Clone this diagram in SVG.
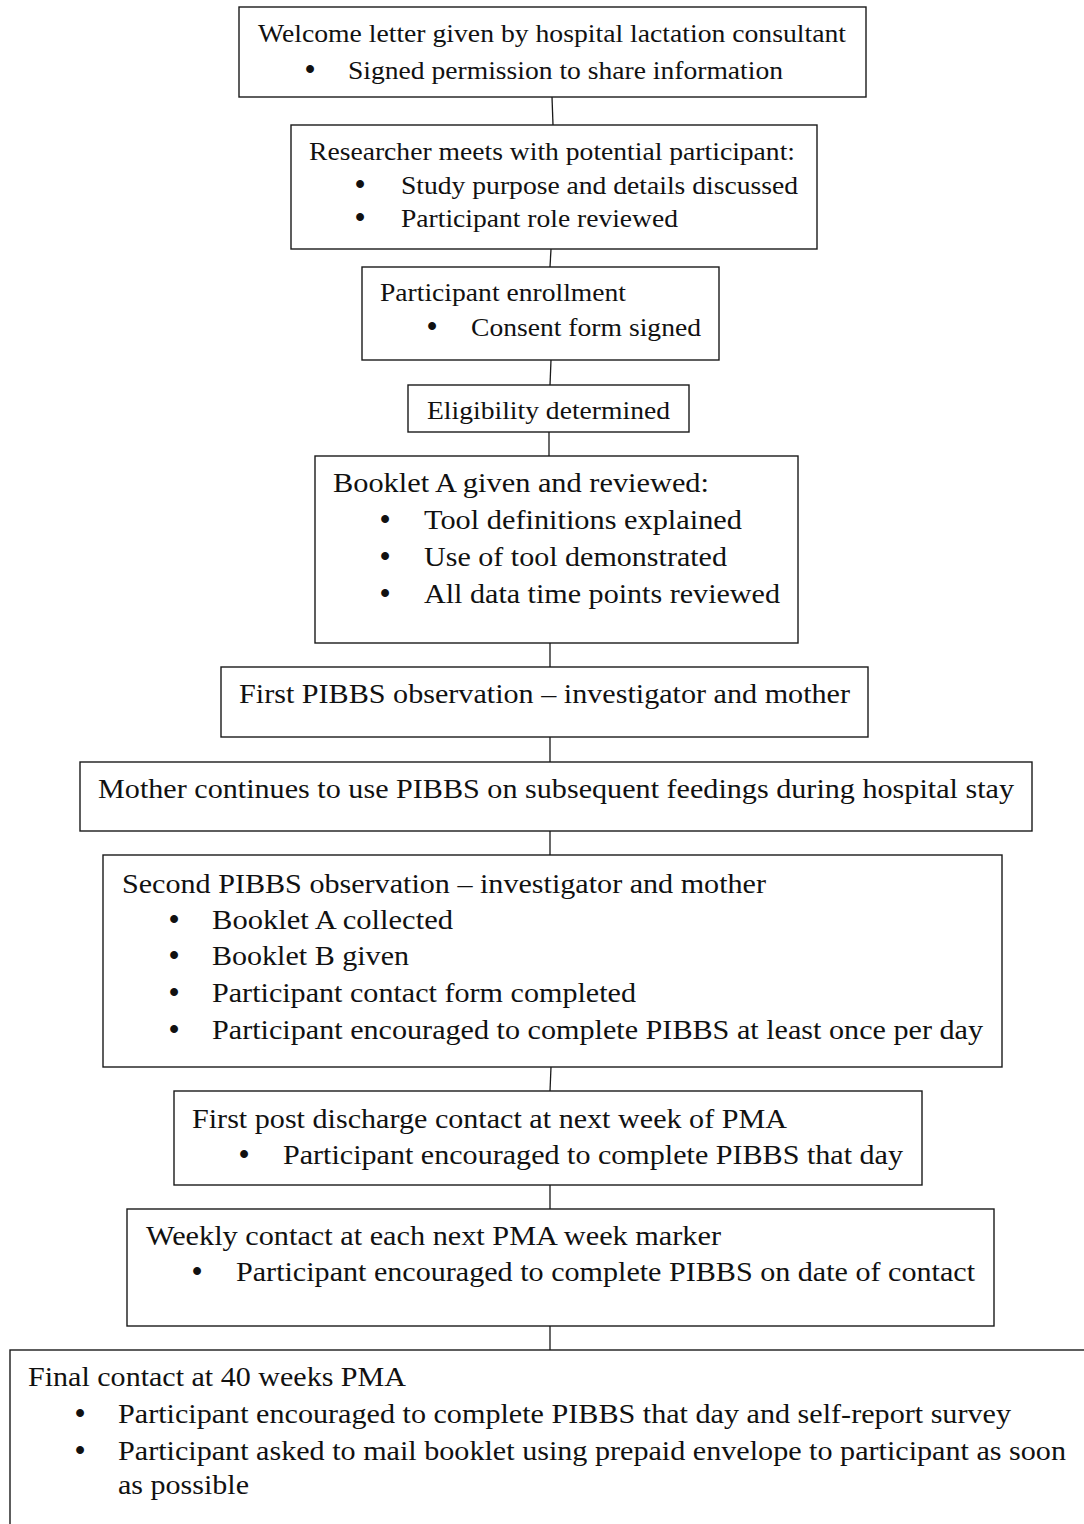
<svg xmlns="http://www.w3.org/2000/svg" width="1084" height="1524" viewBox="0 0 1084 1524">
<style>
.box{fill:#fff;stroke:#1a1a1a;stroke-width:1.4}
.c{stroke:#1a1a1a;stroke-width:1.3;fill:none}
text{font-family:"Liberation Serif","Times New Roman",serif;fill:#111}
.s{font-size:26px}
.m{font-size:28px}
.b{text-anchor:middle;font-size:29px;font-weight:bold}
</style>
<rect width="1084" height="1524" fill="#fff"/>
<g id="connectors">
<line class="c" x1="552" y1="97" x2="553" y2="125"/>
<line class="c" x1="551" y1="249" x2="550" y2="267"/>
<line class="c" x1="551" y1="360" x2="550" y2="385"/>
<line class="c" x1="549" y1="432" x2="549" y2="456"/>
<line class="c" x1="550" y1="643" x2="550" y2="667"/>
<line class="c" x1="550" y1="737" x2="550" y2="762"/>
<line class="c" x1="550" y1="831" x2="550" y2="855"/>
<line class="c" x1="551" y1="1067" x2="550" y2="1091"/>
<line class="c" x1="550" y1="1185" x2="550" y2="1209"/>
<line class="c" x1="550" y1="1326" x2="550" y2="1350"/>
</g>
<g id="n1">
<rect class="box" x="239" y="7" width="627" height="90"/>
<text class="s" x="258" y="42" textLength="588" lengthAdjust="spacingAndGlyphs">Welcome letter given by hospital lactation consultant</text>
<text class="b" x="310" y="79">•</text>
<text class="s" x="348" y="79" textLength="435" lengthAdjust="spacingAndGlyphs">Signed permission to share information</text>
</g>
<g id="n2">
<rect class="box" x="291" y="125" width="526" height="124"/>
<text class="s" x="309" y="160" textLength="486" lengthAdjust="spacingAndGlyphs">Researcher meets with potential participant:</text>
<text class="b" x="360" y="194">•</text>
<text class="s" x="401" y="194" textLength="397" lengthAdjust="spacingAndGlyphs">Study purpose and details discussed</text>
<text class="b" x="360" y="227">•</text>
<text class="s" x="401" y="227" textLength="277" lengthAdjust="spacingAndGlyphs">Participant role reviewed</text>
</g>
<g id="n3">
<rect class="box" x="362" y="267" width="357" height="93"/>
<text class="s" x="380" y="301" textLength="246" lengthAdjust="spacingAndGlyphs">Participant enrollment</text>
<text class="b" x="432" y="336">•</text>
<text class="s" x="471" y="336" textLength="230" lengthAdjust="spacingAndGlyphs">Consent form signed</text>
</g>
<g id="n4">
<rect class="box" x="408" y="385" width="281" height="47"/>
<text class="s" x="427" y="419" textLength="243" lengthAdjust="spacingAndGlyphs">Eligibility determined</text>
</g>
<g id="n5">
<rect class="box" x="315" y="456" width="483" height="187"/>
<text class="m" x="333" y="492" textLength="376" lengthAdjust="spacingAndGlyphs">Booklet A given and reviewed:</text>
<text class="b" x="385" y="529">•</text>
<text class="m" x="424" y="529" textLength="318" lengthAdjust="spacingAndGlyphs">Tool definitions explained</text>
<text class="b" x="385" y="566">•</text>
<text class="m" x="424" y="566" textLength="303" lengthAdjust="spacingAndGlyphs">Use of tool demonstrated</text>
<text class="b" x="385" y="603">•</text>
<text class="m" x="424" y="603" textLength="356" lengthAdjust="spacingAndGlyphs">All data time points reviewed</text>
</g>
<g id="n6">
<rect class="box" x="221" y="667" width="647" height="70"/>
<text class="m" x="239" y="703" textLength="611" lengthAdjust="spacingAndGlyphs">First PIBBS observation – investigator and mother</text>
</g>
<g id="n7">
<rect class="box" x="80" y="762" width="952" height="69"/>
<text class="m" x="98" y="798" textLength="916" lengthAdjust="spacingAndGlyphs">Mother continues to use PIBBS on subsequent feedings during hospital stay</text>
</g>
<g id="n8">
<rect class="box" x="103" y="855" width="899" height="212"/>
<text class="m" x="122" y="893" textLength="644" lengthAdjust="spacingAndGlyphs">Second PIBBS observation – investigator and mother</text>
<text class="b" x="174" y="929">•</text>
<text class="m" x="212" y="929" textLength="241" lengthAdjust="spacingAndGlyphs">Booklet A collected</text>
<text class="b" x="174" y="965">•</text>
<text class="m" x="212" y="965" textLength="197" lengthAdjust="spacingAndGlyphs">Booklet B given</text>
<text class="b" x="174" y="1002">•</text>
<text class="m" x="212" y="1002" textLength="424" lengthAdjust="spacingAndGlyphs">Participant contact form completed</text>
<text class="b" x="174" y="1039">•</text>
<text class="m" x="212" y="1039" textLength="771" lengthAdjust="spacingAndGlyphs">Participant encouraged to complete PIBBS at least once per day</text>
</g>
<g id="n9">
<rect class="box" x="174" y="1091" width="748" height="94"/>
<text class="m" x="192" y="1128" textLength="595" lengthAdjust="spacingAndGlyphs">First post discharge contact at next week of PMA</text>
<text class="b" x="244" y="1164">•</text>
<text class="m" x="283" y="1164" textLength="620" lengthAdjust="spacingAndGlyphs">Participant encouraged to complete PIBBS that day</text>
</g>
<g id="n10">
<rect class="box" x="127" y="1209" width="867" height="117"/>
<text class="m" x="146" y="1245" textLength="575" lengthAdjust="spacingAndGlyphs">Weekly contact at each next PMA week marker</text>
<text class="b" x="197" y="1281">•</text>
<text class="m" x="236" y="1281" textLength="739" lengthAdjust="spacingAndGlyphs">Participant encouraged to complete PIBBS on date of contact</text>
</g>
<g id="n11">
<rect class="box" x="10" y="1350" width="1090" height="190"/>
<text class="m" x="28" y="1386" textLength="378" lengthAdjust="spacingAndGlyphs">Final contact at 40 weeks PMA</text>
<text class="b" x="80" y="1423">•</text>
<text class="m" x="118" y="1423" textLength="893" lengthAdjust="spacingAndGlyphs">Participant encouraged to complete PIBBS that day and self-report survey</text>
<text class="b" x="80" y="1460">•</text>
<text class="m" x="118" y="1460" textLength="948" lengthAdjust="spacingAndGlyphs">Participant asked to mail booklet using prepaid envelope to participant as soon</text>
<text class="m" x="118" y="1494" textLength="131" lengthAdjust="spacingAndGlyphs">as possible</text>
</g>
</svg>
